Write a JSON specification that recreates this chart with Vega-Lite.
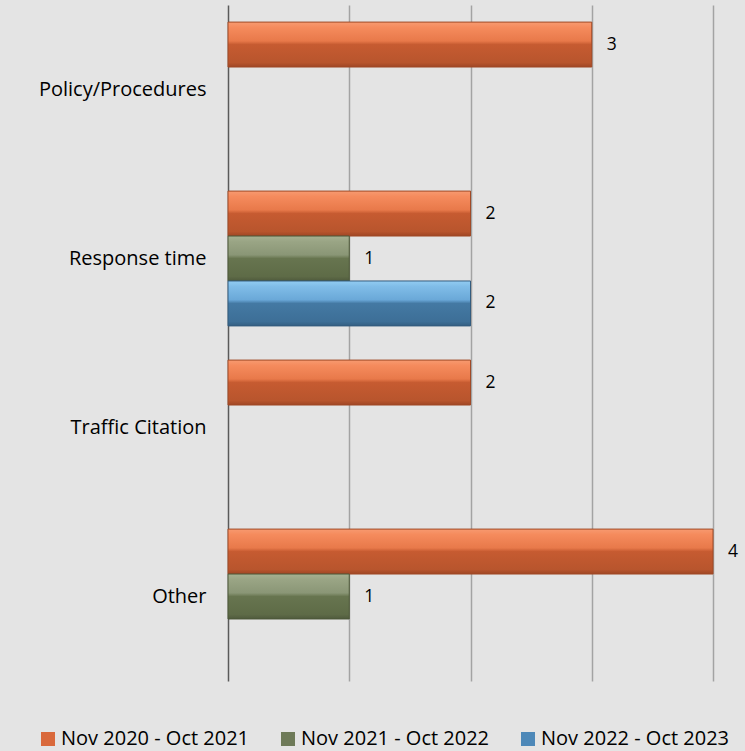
{
  "$schema": "https://vega.github.io/schema/vega-lite/v6.json",
  "width": 485,
  "height": 676,
  "autosize": {"type": "none"},
  "padding": {"left": 228, "top": 5, "right": 32, "bottom": 70},
  "background": "#e4e4e4",
  "config": {
    "font": "Open Sans",
    "view": {"stroke": null},
    "axis": {"labelFont": "Open Sans", "titleFont": "Open Sans"},
    "legend": {"labelFont": "Open Sans"}
  },
  "data": {
    "values": [
      {"category": "Policy/Procedures", "series": "Nov 2020 - Oct 2021", "value": 3},
      {"category": "Response time", "series": "Nov 2020 - Oct 2021", "value": 2},
      {"category": "Response time", "series": "Nov 2021 - Oct 2022", "value": 1},
      {"category": "Response time", "series": "Nov 2022 - Oct 2023", "value": 2},
      {"category": "Traffic Citation", "series": "Nov 2020 - Oct 2021", "value": 2},
      {"category": "Other", "series": "Nov 2020 - Oct 2021", "value": 4},
      {"category": "Other", "series": "Nov 2021 - Oct 2022", "value": 1}
    ]
  },
  "encoding": {
    "y": {
      "field": "category",
      "type": "nominal",
      "sort": ["Policy/Procedures", "Response time", "Traffic Citation", "Other"],
      "scale": {"paddingInner": 0, "paddingOuter": 0},
      "axis": {"title": null, "ticks": false, "domain": true, "domainColor": "#5a5a5a", "domainWidth": 1.5, "labelPadding": 22, "labelFontSize": 20, "labelColor": "#000000", "grid": false, "labelLimit": 300}
    },
    "yOffset": {
      "field": "series",
      "type": "nominal",
      "scale": {"domain": ["Nov 2020 - Oct 2021", "Nov 2021 - Oct 2022", "Nov 2022 - Oct 2023"], "paddingInner": 0, "paddingOuter": 0.38}
    },
    "x": {
      "field": "value",
      "type": "quantitative",
      "scale": {"domain": [0, 4], "nice": false},
      "axis": {"title": null, "labels": false, "ticks": false, "domain": false, "grid": true, "gridColor": "#a3a3a3", "gridWidth": 1.5, "values": [1, 2, 3, 4]}
    }
  },
  "layer": [
    {
      "mark": {"type": "bar", "cornerRadius": 0},
      "encoding": {
        "color": {
          "field": "series",
          "type": "nominal",
          "scale": {"domain": ["Nov 2020 - Oct 2021", "Nov 2021 - Oct 2022", "Nov 2022 - Oct 2023"], "range": ["#d9693c", "#6e7a58", "#4d88b8"]},
          "legend": {
            "title": null,
            "orient": "none",
            "direction": "horizontal",
            "legendX": -190,
            "legendY": 724,
            "symbolType": "square",
            "symbolSize": 196,
            "symbolStrokeWidth": 0,
            "labelFontSize": 20,
            "labelColor": "#000000",
            "labelOffset": 3,
            "labelLimit": 400,
            "columnPadding": 28,
            "symbolOpacity": 1
          }
        }
      }
    },
    {
      "transform": [{"filter": "datum.series === 'Nov 2020 - Oct 2021'"}],
      "mark": {"type": "bar", "stroke": "#a04a27", "strokeWidth": 1, "fill": {"gradient": "linear", "x1": 0, "y1": 0, "x2": 0, "y2": 1, "stops": [{"offset": 0, "color": "#f79a70"}, {"offset": 0.12, "color": "#f58b5d"}, {"offset": 0.42, "color": "#e8794a"}, {"offset": 0.5, "color": "#c65b31"}, {"offset": 0.9, "color": "#b8552d"}, {"offset": 1, "color": "#9f4625"}]}}
    },
    {
      "transform": [{"filter": "datum.series === 'Nov 2021 - Oct 2022'"}],
      "mark": {"type": "bar", "stroke": "#4d5839", "strokeWidth": 1, "fill": {"gradient": "linear", "x1": 0, "y1": 0, "x2": 0, "y2": 1, "stops": [{"offset": 0, "color": "#a6b192"}, {"offset": 0.12, "color": "#9aa585"}, {"offset": 0.42, "color": "#8a9676"}, {"offset": 0.5, "color": "#67754f"}, {"offset": 0.9, "color": "#5e6b47"}, {"offset": 1, "color": "#4f5a3c"}]}}
    },
    {
      "transform": [{"filter": "datum.series === 'Nov 2022 - Oct 2023'"}],
      "mark": {"type": "bar", "stroke": "#335c7e", "strokeWidth": 1, "fill": {"gradient": "linear", "x1": 0, "y1": 0, "x2": 0, "y2": 1, "stops": [{"offset": 0, "color": "#92ccf2"}, {"offset": 0.12, "color": "#80bde8"}, {"offset": 0.42, "color": "#6aa8d8"}, {"offset": 0.5, "color": "#4479a3"}, {"offset": 0.9, "color": "#3d6f97"}, {"offset": 1, "color": "#345f82"}]}}
    },
    {
      "mark": {"type": "text", "align": "left", "baseline": "middle", "dx": 15, "fontSize": 17.5, "color": "#000000"},
      "encoding": {"text": {"field": "value", "type": "quantitative"}}
    }
  ]
}
